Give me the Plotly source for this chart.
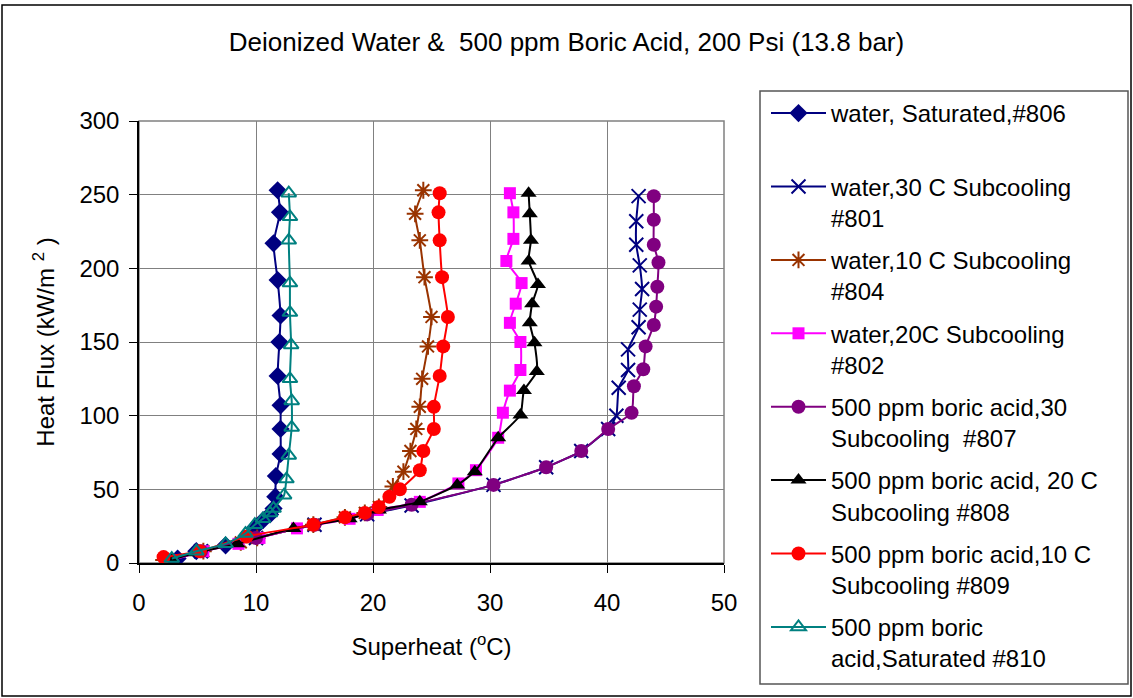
import plotly.graph_objects as go

# ---- data (Superheat °C, Heat flux kW/m2) ----
names = [
    "water, Saturated,#806<br> ",
    "water,30 C Subcooling<br>#801",
    "water,10 C Subcooling<br>#804",
    "water,20C Subcooling<br>#802",
    "500 ppm boric acid,30<br>Subcooling  #807",
    "500 ppm boric acid, 20 C<br>Subcooling #808",
    "500 ppm boric acid,10 C<br>Subcooling #809",
    "500 ppm boric<br>acid,Saturated #810",
]

w_sat_x = [3.3, 4.9, 7.4, 9.9, 10.6, 11.2, 11.5, 11.65, 11.7, 12.1, 12.1, 12.1, 11.85, 12.0, 12.1, 11.85, 11.5, 12.05, 11.85]
w_sat_y = [3, 8, 12, 24, 29, 33, 37, 45, 59, 74, 91, 107, 127, 150, 168, 192, 217, 238, 253]

w_30_x = [2.8, 5.3, 10.0, 15.0, 19.5, 23.3, 30.3, 34.8, 37.8, 40.1, 40.8, 41.0, 41.8, 41.8, 42.7, 42.8, 43.0, 42.8, 42.5, 42.5, 42.7]
w_30_y = [2, 8, 17, 26, 33, 39, 53, 65, 76, 91, 100, 119, 131, 145, 160, 172, 186, 202, 216, 232, 249]

w_10_x = [2.1, 5.5, 8.7, 10.1, 14.9, 17.6, 19.3, 20.5, 21.7, 22.6, 23.2, 23.7, 24.0, 24.2, 24.7, 25.0, 24.4, 24.0, 23.6, 24.3]
w_10_y = [2, 8, 14, 17, 26, 31, 34, 38, 52, 62, 76, 91, 106, 125, 147, 167, 194, 219, 237, 253]

w_20_x = [2.8, 5.5, 8.5, 10.3, 13.5, 18.0, 20.4, 24.0, 27.3, 28.8, 30.7, 31.1, 31.7, 32.6, 32.6, 31.7, 32.2, 32.7, 31.4, 32.0, 32.0, 31.7]
w_20_y = [2, 8, 13, 17, 23.5, 30, 36, 41.5, 54, 63, 85, 102, 117, 131, 150, 163, 176, 190, 205, 220, 238, 251]

b_30_x = [2.8, 5.3, 10.0, 15.0, 19.5, 23.3, 30.3, 34.8, 37.8, 40.1, 42.1, 42.3, 43.1, 43.3, 44.0, 44.2, 44.3, 44.4, 44.0, 44.0, 44.0]
b_30_y = [2, 8, 17, 26, 33, 39.5, 53, 65, 76, 91, 102, 120, 131.5, 147, 161.5, 174, 187.5, 204, 216, 233, 249]

b_20_x = [2.8, 4.9, 8.4, 13.2, 18.0, 20.5, 24.0, 27.2, 28.7, 30.7, 32.6, 32.9, 34.0, 33.8, 33.4, 33.6, 34.1, 33.3, 33.5, 33.4, 33.3]
b_20_y = [2.5, 7, 13, 23.5, 30, 36, 41.5, 53, 62, 85, 100.5, 117, 130, 149.5, 163, 176, 189, 205, 219, 237, 251]

b_10_x = [2.1, 5.2, 9.2, 14.9, 17.6, 19.3, 20.5, 21.4, 22.3, 24.0, 24.3, 25.2, 25.2, 25.7, 26.0, 26.4, 25.9, 25.7, 25.6, 25.7]
b_10_y = [4, 8, 18, 26, 31, 34, 38, 45, 50, 63, 76, 91, 106, 127, 147, 167, 194, 219, 238, 251]

b_sat_x = [2.8, 4.9, 7.4, 9.1, 9.9, 10.6, 11.2, 11.5, 12.4, 12.6, 12.8, 13.05, 13.05, 12.9, 13.0, 12.9, 12.9, 12.8, 12.9, 12.8]
b_sat_y = [3, 8, 13, 20, 26, 30, 34, 37, 46, 57, 73, 92, 110, 125, 148, 170, 190, 219, 235, 251]

x_ticks = [0, 10, 20, 30, 40, 50]
y_ticks = [0, 50, 100, 150, 200, 250, 300]

series = [
    (w_sat_x, w_sat_y, "#000080", "diamond", 14, 0),
    (w_30_x, w_30_y, "#000080", "x-thin-open", 14, 2),
    (w_10_x, w_10_y, "#993300", "asterisk-open", 14, 2),
    (w_20_x, w_20_y, "#FF00FF", "square", 12, 0),
    (b_30_x, b_30_y, "#800080", "circle", 14, 0),
    (b_20_x, b_20_y, "#000000", "triangle-up", 14, 0),
    (b_10_x, b_10_y, "#FF0000", "circle", 14, 0),
    (b_sat_x, b_sat_y, "#008080", "triangle-up-open", 13, 2),
]

FONT = "Arial, Liberation Sans, sans-serif"

fig = go.Figure()
for i, (xs, ys, col, sym, sz, lw) in enumerate(series):
    fig.add_trace(go.Scatter(
        x=xs, y=ys, name=names[i], mode="lines+markers",
        legendgroup=f"g{i}",
        line=dict(color=col, width=2, shape="spline", smoothing=0.5),
        marker=dict(symbol=sym, size=sz, color=col, line=dict(color=col, width=lw)),
    ))

L, R, T, B = 139, 409, 121, 135
W, H = 1133, 698
pw, ph = W - L - R, H - T - B

def px2paper_x(px):
    return (px - L) / pw

def px2paper_y(py):
    return (H - B - py) / ph

fig.update_layout(
    width=W, height=H, autosize=False,
    margin=dict(l=L, r=R, t=T, b=B, pad=0),
    paper_bgcolor="white", plot_bgcolor="white",
    font=dict(family=FONT, size=24, color="black"),
    title=dict(text="Deionized Water &amp;&nbsp; 500 ppm Boric Acid, 200 Psi (13.8 bar)",
               x=0.5, xref="container", xanchor="center",
               y=1 - 42 / H, yref="container", yanchor="middle",
               font=dict(size=26, family=FONT, color="black")),
    xaxis=dict(range=[0, 50], tickvals=x_ticks, ticks="outside", ticklen=8, tickcolor="black",
               showline=True, linecolor="black", linewidth=1.5, mirror=False,
               showgrid=True, gridcolor="#808080", gridwidth=1, zeroline=False,
               ticklabelstandoff=9,
               title=dict(text="Superheat (<sup>o</sup>C)", standoff=24, font=dict(size=24)),
               tickfont=dict(size=24), automargin=False),
    yaxis=dict(range=[0, 300], tickvals=y_ticks, ticks="outside", ticklen=8, tickcolor="black",
               showline=True, linecolor="black", linewidth=1.5, mirror=False,
               showgrid=True, gridcolor="#808080", gridwidth=1, zeroline=False,
               ticklabelstandoff=5,
               title=dict(text="Heat Flux (kW/m <sup>2</sup> )", standoff=18, font=dict(size=24)),
               tickfont=dict(size=24), automargin=False),
    legend=dict(x=px2paper_x(766), y=px2paper_y(91), xanchor="left", yanchor="top",
                xref="paper", yref="paper", maxheight=700,
                bgcolor="rgba(0,0,0,0)", borderwidth=0,
                font=dict(size=24, family=FONT), itemwidth=55, valign="top",
                tracegroupgap=8, traceorder="grouped"),
    showlegend=True,
)

# plot area frame (gray top/right)
fig.add_shape(type="rect", xref="paper", yref="paper", x0=0, y0=0, x1=1, y1=1,
              line=dict(color="#808080", width=1.5), layer="below")
# legend box
fig.add_shape(type="rect", xref="paper", yref="paper",
              x0=px2paper_x(760), x1=px2paper_x(1128), y0=px2paper_y(684), y1=px2paper_y(91),
              line=dict(color="#555555", width=1.5), layer="below")
# outer chart border
fig.add_shape(type="rect", xref="paper", yref="paper",
              x0=px2paper_x(2), x1=px2paper_x(1131), y0=px2paper_y(696), y1=px2paper_y(5),
              line=dict(color="black", width=1.5), layer="below")

fig.write_html("out.html")
